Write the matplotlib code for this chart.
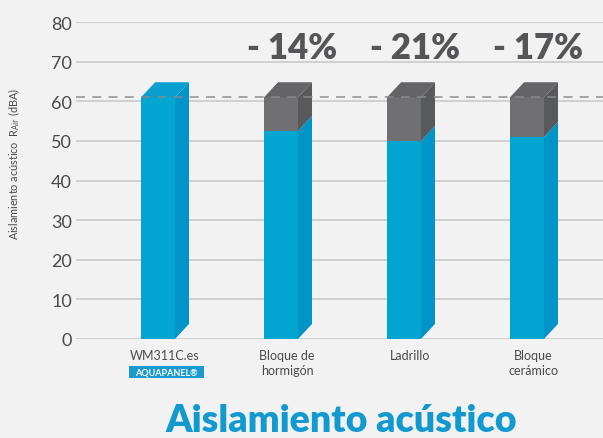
import matplotlib.pyplot as plt
from matplotlib.patches import Polygon, FancyBboxPatch

# data (dBA)
categories = ["WM311C.es", "Bloque de\nhormigón", "Ladrillo", "Bloque\ncerámico"]
reference_value = 61.0
blue_values = [61.0, 52.5, 50.0, 51.0]
loss_labels = ["", "- 14%", "- 21%", "- 17%"]
y_ticks = [0, 10, 20, 30, 40, 50, 60, 70, 80]

BG = "#f2f2f2"
BLUE_FRONT = "#00a6cf"
BLUE_SIDE = "#0094c8"
BLUE_TOP = "#0a9fd0"
GRAY_FRONT = "#707072"
GRAY_SIDE = "#58595b"
GRAY_TOP = "#646466"
TEXT = "#4a4a4a"

plt.rcParams["font.family"] = ["Lato", "DejaVu Sans"]

fig = plt.figure(figsize=(6.03, 4.39), dpi=100, facecolor=BG)
ax = fig.add_axes([76 / 603, 99 / 439, 527 / 603, 317 / 439])
ax.set_facecolor(BG)

width = 0.276
depth_x = 0.114
depth_y = 3.8

x = list(range(len(categories)))

for yt in y_ticks:
    ax.axhline(yt, color="#cdcdcd", lw=1.3, zorder=1)

for i, (xi, bv) in enumerate(zip(x, blue_values)):
    x0 = xi - width / 2
    x1 = xi + width / 2
    # blue front
    ax.bar(xi, bv, width=width, color=BLUE_FRONT, zorder=3, linewidth=0)
    ax.add_patch(Polygon([(x1, 0), (x1 + depth_x, depth_y), (x1 + depth_x, bv + depth_y), (x1, bv)],
                         closed=True, color=BLUE_SIDE, lw=0, zorder=3))
    if bv < reference_value:
        ax.bar(xi, reference_value - bv, bottom=bv, width=width, color=GRAY_FRONT, zorder=3, linewidth=0)
        ax.add_patch(Polygon([(x1, bv), (x1 + depth_x, bv + depth_y),
                              (x1 + depth_x, reference_value + depth_y), (x1, reference_value)],
                             closed=True, color=GRAY_SIDE, lw=0, zorder=3))
        top_col = GRAY_TOP
    else:
        top_col = BLUE_TOP
    ax.add_patch(Polygon([(x0, reference_value), (x0 + depth_x, reference_value + depth_y),
                          (x1 + depth_x, reference_value + depth_y), (x1, reference_value)],
                         closed=True, color=top_col, lw=0, zorder=3))
    if loss_labels[i]:
        ax.text(xi + 0.09, 73.5, loss_labels[i], ha="center", va="center", fontsize=25,
                fontweight="heavy", color="#555557", zorder=4)

ax.axhline(reference_value, color="#8a8a8a", lw=1.3, ls=(0, (5, 4)), alpha=0.8, zorder=4)

ax.set_xlim(-0.667, 3.618)
ax.set_ylim(0, 80)
ax.set_yticks(y_ticks)
ax.set_yticklabels([str(v) for v in y_ticks], fontsize=13, color=TEXT)
ax.set_xticks([xi + 0.05 for xi in x])
ax.set_xticklabels(categories, fontsize=9, color=TEXT, linespacing=1.3)
ax.tick_params(axis="both", length=0)
ax.tick_params(axis="y", pad=3)
ax.tick_params(axis="x", pad=7)
for s in ax.spines.values():
    s.set_visible(False)

ax.set_ylabel(r"Aislamiento acústico  R$_{\mathrm{Air}}$ (dBA)", fontsize=7.8, color=TEXT)
ax.yaxis.set_label_coords(-0.102, 0.555)

# AQUAPANEL badge under the first label
fig.patches.append(FancyBboxPatch((129 / 603, 1 - 379 / 439), 75 / 603, 12 / 439,
                                  boxstyle="square,pad=0", transform=fig.transFigure,
                                  facecolor="#1a9ad0", edgecolor="none"))
fig.text(166 / 603, 1 - 373 / 439, "AQUAPANEL®", fontsize=6.5, color="white",
         fontweight="bold", ha="center", va="center")

fig.text(341 / 603, 1 - 432 / 439, "Aislamiento acústico", fontsize=27, fontweight="heavy",
         color="#1199d0", ha="center", va="baseline")

fig.savefig("out.png", dpi=100, facecolor=BG)
